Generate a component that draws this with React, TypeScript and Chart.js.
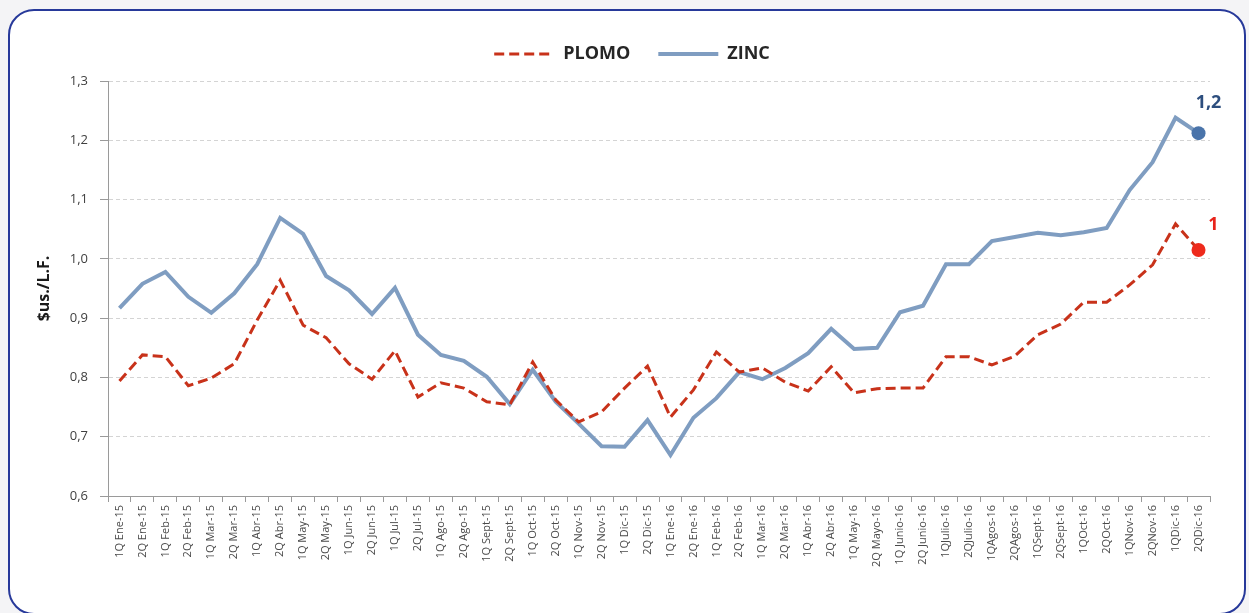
import React, { useEffect, useRef } from "react";
import { Chart, registerables } from "chart.js";

Chart.register(...registerables);

const categories = [
  "1Q Ene-15", "2Q Ene-15", "1Q Feb-15", "2Q Feb-15", "1Q Mar-15", "2Q Mar-15",
  "1Q Abr-15", "2Q Abr-15", "1Q May-15", "2Q May-15", "1Q Jun-15", "2Q Jun-15",
  "1Q Jul-15", "2Q Jul-15", "1Q Ago-15", "2Q Ago-15", "1Q Sept-15", "2Q Sept-15",
  "1Q Oct-15", "2Q Oct-15", "1Q Nov-15", "2Q Nov-15", "1Q Dic-15", "2Q Dic-15",
  "1Q Ene-16", "2Q Ene-16", "1Q Feb-16", "2Q Feb-16", "1Q Mar-16", "2Q Mar-16",
  "1Q Abr-16", "2Q Abr-16", "1Q May-16", "2Q Mayo-16", "1Q Junio-16", "2Q Junio-16",
  "1QJulio-16", "2QJulio-16", "1QAgos-16", "2QAgos-16", "1QSept-16", "2QSept-16",
  "1QOct-16", "2QOct-16", "1QNov-16", "2QNov-16", "1QDic-16", "2QDic-16",
];

const plomo = [
  0.794, 0.838, 0.835, 0.786, 0.799, 0.823, 0.897, 0.964, 0.888, 0.867, 0.823, 0.797,
  0.845, 0.767, 0.791, 0.782, 0.759, 0.754, 0.826, 0.762, 0.725, 0.742, 0.782, 0.819,
  0.733, 0.779, 0.843, 0.809, 0.816, 0.792, 0.777, 0.818, 0.774, 0.781, 0.782, 0.782,
  0.835, 0.835, 0.821, 0.836, 0.872, 0.890, 0.927, 0.927, 0.956, 0.990, 1.059, 1.015,
];

const zinc = [
  0.917, 0.958, 0.978, 0.936, 0.909, 0.942, 0.991, 1.069, 1.042, 0.971, 0.947, 0.907,
  0.951, 0.872, 0.838, 0.828, 0.801, 0.755, 0.813, 0.759, 0.722, 0.684, 0.683, 0.728,
  0.669, 0.732, 0.765, 0.809, 0.797, 0.816, 0.841, 0.882, 0.848, 0.850, 0.910, 0.921,
  0.991, 0.991, 1.030, 1.037, 1.044, 1.040, 1.045, 1.052, 1.116, 1.163, 1.238, 1.212,
];

const endLabels = ["1", "1,2"];
const yMin = 0.6;
const yMax = 1.3;
const yStep = 0.1;

const endLabelPlugin = {
  id: "endLabels",
  afterDatasetsDraw(chart: any) {
    const ctx = chart.ctx;
    const cfg = [
      { ds: 0, color: "#e8231a", dx: 15, dy: -25 },
      { ds: 1, color: "#2d4e7e", dx: 10, dy: -30 },
    ];
    ctx.save();
    ctx.font = "bold 18px 'Open Sans', sans-serif";
    ctx.textAlign = "center";
    ctx.textBaseline = "middle";
    cfg.forEach((c) => {
      const meta = chart.getDatasetMeta(c.ds);
      const pt = meta.data[meta.data.length - 1];
      if (!pt) return;
      ctx.fillStyle = c.color;
      ctx.fillText(endLabels[c.ds], pt.x + c.dx, pt.y + c.dy);
    });
    ctx.restore();
  },
};

const legendTweakPlugin = {
  id: "legendTweak",
  beforeInit(chart: any) {
    const legend = chart.legend;
    if (!legend) return;
    const origFit = legend.fit;
    legend.fit = function () {
      origFit.call(this);
      this.height += 8;
    };
  },
  afterLayout(chart: any) {
    const legend = chart.legend;
    if (!legend) return;
    legend.left += 27;
    legend.right += 27;
  },
};

export default function App() {
  const ref = useRef<HTMLCanvasElement | null>(null);

  useEffect(() => {
    if (!ref.current) return;
    const n = categories.length;
    const radii = categories.map((_, i) => (i === n - 1 ? 7 : 0));
    const chart = new Chart(ref.current, {
      type: "line",
      data: {
        labels: categories,
        datasets: [
          {
            label: "PLOMO",
            data: plomo,
            borderColor: "#c8321a",
            backgroundColor: "#ee2a1c",
            borderWidth: 3,
            borderDash: [10, 5],
            pointRadius: radii,
            pointBackgroundColor: "#ee2a1c",
            pointBorderColor: "#ee2a1c",
            pointBorderWidth: 0,
            tension: 0,
          },
          {
            label: "ZINC",
            data: zinc,
            borderColor: "#7f9dc1",
            backgroundColor: "#4a74aa",
            borderWidth: 4,
            pointRadius: radii,
            pointBackgroundColor: "#4a74aa",
            pointBorderColor: "#4a74aa",
            pointBorderWidth: 0,
            tension: 0,
          },
        ],
      },
      options: {
        animation: false,
        responsive: false,
        maintainAspectRatio: false,
        layout: { padding: { left: 0, right: 39, top: 17, bottom: 0 } },
        plugins: {
          legend: {
            display: true,
            position: "top",
            labels: {
              usePointStyle: true,
              pointStyle: "line",
              pointStyleWidth: 60,
              padding: 28,
              color: "#262626",
              font: { family: "'Open Sans', sans-serif", size: 18, weight: "bold" },
              generateLabels(chart: any) {
                const items = (Chart.defaults as any).plugins.legend.labels.generateLabels(chart);
                items.forEach((it: any, i: number) => {
                  const ds: any = chart.data.datasets[i];
                  it.lineWidth = ds.borderWidth;
                  it.strokeStyle = ds.borderColor;
                  it.fillStyle = ds.borderColor;
                  it.lineDash = ds.borderDash || [];
                  it.pointStyle = "line";
                });
                return items;
              },
            },
          },
          tooltip: { enabled: false },
        },
        scales: {
          x: {
            type: "category",
            offset: true,
            grid: {
              display: true,
              offset: true,
              drawOnChartArea: false,
              drawTicks: true,
              tickLength: 6,
              color: "#9a9a9a",
            },
            border: { display: true, color: "#9a9a9a", width: 1 },
            ticks: {
              autoSkip: false,
              maxRotation: 90,
              minRotation: 90,
              padding: 3,
              color: "#4a4a4a",
              font: { family: "'Open Sans', sans-serif", size: 11 },
            },
            afterFit(scale: any) {
              scale.height = 117;
            },
          },
          y: {
            min: yMin,
            max: yMax,
            grid: {
              color: "#d4d4d4",
              drawTicks: true,
              tickLength: 8,
              tickColor: "#9a9a9a",
              tickBorderDash: [],
            },
            border: { display: true, color: "#9a9a9a", width: 1, dash: [4, 3] },
            ticks: {
              stepSize: yStep,
              padding: 12,
              color: "#404040",
              font: { family: "'Open Sans', sans-serif", size: 13 },
              callback: (v: any) => Number(v).toFixed(1).replace(".", ","),
            },
            title: {
              display: true,
              text: "$us./L.F.",
              color: "#1a1a1a",
              padding: { top: 35, bottom: 0 },
              font: { family: "'Open Sans', sans-serif", size: 16, weight: "bold" },
            },
            afterFit(scale: any) {
              scale.width = 108;
            },
          },
        },
      },
      plugins: [legendTweakPlugin, endLabelPlugin],
    });
    return () => chart.destroy();
  }, []);

  return (
    <div
      style={{
        position: "fixed",
        left: 0,
        top: 0,
        width: 1249,
        height: 613,
        background: "#f4f4f6",
        overflow: "hidden",
      }}
    >
      <div
        style={{
          position: "absolute",
          left: 8,
          top: 9,
          width: 1238,
          height: 606,
          boxSizing: "border-box",
          border: "2.5px solid #27399a",
          borderRadius: 26,
          background: "#ffffff",
        }}
      />
      <canvas
        ref={ref}
        width={1249}
        height={613}
        style={{ position: "absolute", left: 0, top: 0, width: 1249, height: 613 }}
      />
    </div>
  );
}
